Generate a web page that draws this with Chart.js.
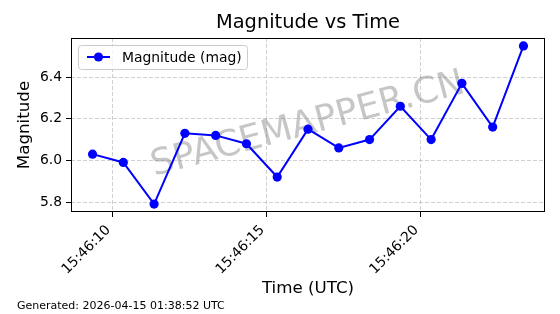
<!DOCTYPE html>
<html>
<head>
<meta charset="utf-8">
<script src="https://cdn.jsdelivr.net/npm/chart.js@4"></script>
<style>
  html, body { margin: 0; padding: 0; background: #fff; }
  #wrap { width: 560px; height: 314px; }
</style>
</head>
<body>
<div id="wrap"><canvas id="chart"></canvas></div>
<script>
// seconds after 15:46:00 UTC
const timeSeconds = [9.35, 10.35, 11.35, 12.35, 13.35, 14.35, 15.35, 16.35, 17.35, 18.35, 19.35, 20.35, 21.35, 22.35, 23.35];
const magnitudes = [6.03, 5.99, 5.79, 6.13, 6.12, 6.08, 5.92, 6.15, 6.06, 6.10, 6.26, 6.10, 6.37, 6.16, 6.55];
const xTicks = [10, 15, 20];
const yTicks = [5.8, 6.0, 6.2, 6.4];
const seriesLabel = "Magnitude (mag)";
const titleText = "Magnitude vs Time";
const footerText = "Generated: 2026-04-15 01:38:52 UTC";
const watermarkText = "SPACEMAPPER.CN";

const FONT = "'DejaVu Sans', sans-serif";

const fmtTime = v => "15:46:" + String(Math.round(v)).padStart(2, "0");

const extras = {
  id: "extras",
  beforeDatasetsDraw(chart) {
    const { ctx, chartArea: a } = chart;
    ctx.save();
    ctx.translate((a.left + a.right) / 2, (a.top + a.bottom) / 2);
    ctx.rotate(-15 * Math.PI / 180);
    ctx.font = "36px " + FONT;
    ctx.fillStyle = "rgba(128,128,128,0.45)";
    ctx.textAlign = "center";
    ctx.textBaseline = "middle";
    ctx.fillText(watermarkText, 0, 0);
    ctx.restore();
  },
  afterDraw(chart) {
    const { ctx, chartArea: a } = chart;
    ctx.save();
    // frame
    ctx.strokeStyle = "#000";
    ctx.lineWidth = 1;
    ctx.strokeRect(Math.round(a.left) + 0.5, Math.round(a.top) + 0.5,
      Math.round(a.right - a.left) - 1, Math.round(a.bottom - a.top) - 1);

    // title, centred over the axes
    ctx.fillStyle = "#000";
    ctx.font = "19.4px " + FONT;
    ctx.textAlign = "center";
    ctx.textBaseline = "middle";
    ctx.fillText(titleText, (a.left + a.right) / 2, 23);

    // legend inside the axes
    const ds = chart.data.datasets[0];
    const bx = a.left + 7, by = a.top + 7, bw = 169, bh = 24;
    ctx.beginPath();
    ctx.roundRect(bx + 0.5, by + 0.5, bw, bh, 3);
    ctx.fillStyle = "rgba(255,255,255,0.8)";
    ctx.fill();
    ctx.strokeStyle = "#cccccc";
    ctx.stroke();
    const ly = by + bh / 2;
    ctx.beginPath();
    ctx.moveTo(bx + 9, ly);
    ctx.lineTo(bx + 32, ly);
    ctx.strokeStyle = ds.borderColor;
    ctx.lineWidth = 2;
    ctx.stroke();
    ctx.beginPath();
    ctx.arc(bx + 20.5, ly, ds.pointRadius, 0, Math.PI * 2);
    ctx.fillStyle = ds.backgroundColor;
    ctx.fill();
    ctx.fillStyle = "#000";
    ctx.font = "13.9px " + FONT;
    ctx.textAlign = "left";
    ctx.fillText(ds.label, bx + 44, ly + 1);

    // footer
    ctx.font = "11px " + FONT;
    ctx.textBaseline = "alphabetic";
    ctx.fillText(footerText, 17, 309);
    ctx.restore();
  }
};

new Chart(document.getElementById("chart"), {
  type: "line",
  data: {
    labels: timeSeconds,
    datasets: [{
      label: seriesLabel,
      data: timeSeconds.map((t, i) => ({ x: t, y: magnitudes[i] })),
      borderColor: "#0000ff",
      backgroundColor: "#0000ff",
      borderWidth: 2,
      pointRadius: 4.6,
      pointHoverRadius: 4.6,
      pointBorderWidth: 0,
      tension: 0
    }]
  },
  options: {
    responsive: true,
    maintainAspectRatio: false,
    animation: false,
    layout: { padding: { left: 0, right: 15, top: 38, bottom: 0 } },
    plugins: {
      legend: { display: false },
      tooltip: { enabled: false },
      title: { display: false }
    },
    scales: {
      x: {
        type: "linear",
        min: 8.65,
        max: 24.05,
        afterBuildTicks: s => { s.ticks = xTicks.map(v => ({ value: v })); },
        afterFit: s => { s.height = 102; },
        ticks: {
          callback: v => fmtTime(v),
          color: "#000",
          font: { family: FONT, size: 13.9 },
          minRotation: 45,
          maxRotation: 45,
          padding: 5,
          labelOffset: -4
        },
        grid: {
          color: "rgba(176,176,176,0.6)",
          tickColor: "#000",
          tickLength: 5,
          tickBorderDash: []
        },
        border: { display: false, dash: [4, 2] },
        title: {
          display: true,
          text: "Time (UTC)",
          color: "#000",
          font: { family: FONT, size: 16.7 },
          padding: { top: 0, bottom: 15 }
        }
      },
      y: {
        type: "linear",
        min: 5.752,
        max: 6.588,
        afterBuildTicks: s => { s.ticks = yTicks.map(v => ({ value: v })); },
        afterFit: s => { s.width = 71; },
        ticks: {
          callback: v => v.toFixed(1),
          color: "#000",
          font: { family: FONT, size: 13.9 },
          padding: 4
        },
        grid: {
          color: "rgba(176,176,176,0.6)",
          tickColor: "#000",
          tickLength: 5,
          tickBorderDash: []
        },
        border: { display: false, dash: [4, 2] },
        title: {
          display: true,
          text: "Magnitude",
          color: "#000",
          font: { family: FONT, size: 16.7 },
          padding: { top: 15, bottom: 0 }
        }
      }
    }
  },
  plugins: [extras]
});
</script>
</body>
</html>
